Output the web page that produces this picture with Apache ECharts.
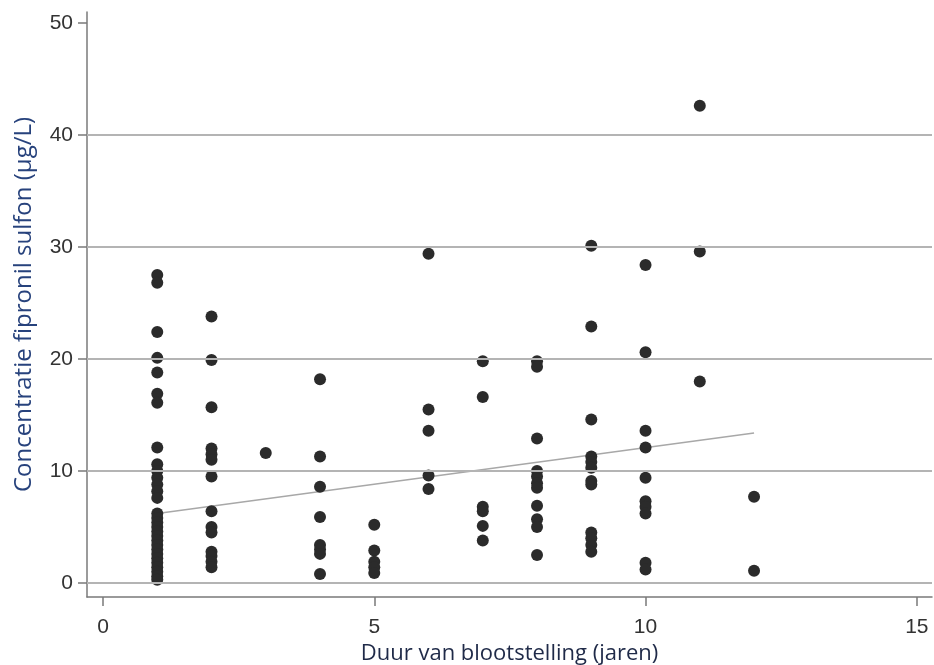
<!DOCTYPE html>
<html>
<head>
<meta charset="utf-8">
<script src="https://cdn.jsdelivr.net/npm/echarts@6/dist/echarts.min.js"></script>
<style>
html,body{margin:0;padding:0;background:#fff;}
#c{width:934px;height:665px;}
</style>
</head>
<body>
<div id="c"></div>
<script>
// Exposure duration (years) and fipronil sulfone concentration (µg/L)
const years = [1, 2, 3, 4, 5, 6, 7, 8, 9, 10, 11, 12];
const conc1 = [27.5, 26.8, 22.4, 20.1, 18.8, 16.9, 16.1, 12.1, 10.6, 10.0, 9.4, 8.8, 8.2, 7.6,
               6.2, 5.8, 5.4, 5.0, 4.6, 4.2, 3.8, 3.4, 3.0, 2.6, 2.2, 1.8, 1.4, 1.0, 0.6, 0.3];
const conc2 = [23.8, 19.9, 15.7, 12.0, 11.5, 11.0, 9.5, 6.4, 5.0, 4.5, 2.8, 2.4, 1.9, 1.4];
const conc3 = [11.6];
const conc4 = [18.2, 11.3, 8.6, 5.9, 3.4, 3.0, 2.6, 0.8];
const conc5 = [5.2, 2.9, 1.9, 1.4, 0.9];
const conc6 = [29.4, 15.5, 13.6, 9.6, 8.4];
const conc7 = [19.8, 16.6, 6.8, 6.4, 5.1, 3.8];
const conc8 = [19.8, 19.3, 12.9, 10.0, 9.5, 8.9, 8.5, 6.9, 5.7, 5.0, 2.5];
const conc9 = [30.1, 22.9, 14.6, 11.3, 10.8, 10.3, 9.1, 8.8, 4.5, 4.0, 3.4, 2.8];
const conc10 = [28.4, 20.6, 13.6, 12.1, 9.4, 7.3, 6.8, 6.2, 1.8, 1.2];
const conc11 = [42.6, 29.6, 18.0];
const conc12 = [7.7, 1.1];
const concByYear = [conc1, conc2, conc3, conc4, conc5, conc6, conc7, conc8, conc9, conc10, conc11, conc12];

// fitted line endpoints
const fitX = [1, 12];
const fitY = [6.2, 13.4];

const xTicks = [0, 5, 10, 15];
const yTicks = [0, 10, 20, 30, 40, 50];
const gridValues = [0, 10, 20, 30, 40];

const points = [];
years.forEach((yr, i) => concByYear[i].forEach(v => points.push([yr, v])));
const fitData = fitX.map((x, i) => [x, fitY[i]]);

const chart = echarts.init(document.getElementById('c'), null, {renderer: 'canvas'});
chart.setOption({
  animation: false,
  backgroundColor: '#ffffff',
  grid: {left: 87, right: 2, top: 12, bottom: 68, containLabel: false, outerBoundsMode: 'none'},
  xAxis: {
    type: 'value',
    min: -0.295, max: 15.28,
    name: 'Duur van blootstelling (jaren)',
    nameLocation: 'middle',
    nameGap: 41,
    nameTextStyle: {fontFamily: 'Open Sans', fontSize: 22, color: '#1f2a48'},
    axisLine: {show: true, onZero: false, lineStyle: {color: '#7a7a7a', width: 1.5}},
    axisTick: {show: true, length: 9, customValues: xTicks, lineStyle: {color: '#7a7a7a', width: 1.5}},
    axisLabel: {customValues: xTicks, margin: 20, fontFamily: 'Liberation Sans', fontSize: 21, color: '#333', lineHeight: 21},
    splitLine: {show: false}
  },
  yAxis: {
    type: 'value',
    min: -1.25, max: 50.98,
    name: 'Concentratie fipronil sulfon (µg/L)',
    nameLocation: 'middle',
    nameRotate: 90,
    nameGap: 51,
    nameTextStyle: {fontFamily: 'Open Sans', fontSize: 24, color: '#27427c'},
    axisLine: {show: true, onZero: false, lineStyle: {color: '#7a7a7a', width: 1.5}},
    axisTick: {show: true, length: 9, customValues: yTicks, lineStyle: {color: '#7a7a7a', width: 1.5}},
    axisLabel: {customValues: yTicks, margin: 14, fontFamily: 'Liberation Sans', fontSize: 21, color: '#333'},
    splitLine: {show: false}
  },
  series: [
    {
      type: 'line',
      data: fitData,
      symbol: 'none',
      lineStyle: {color: '#a8a8a8', width: 1.5},
      z: 3,
      markLine: {
        silent: true,
        symbol: ['none', 'none'],
        label: {show: false},
        lineStyle: {color: '#b4b4b4', width: 2, type: 'solid'},
        data: gridValues.map(v => ({yAxis: v}))
      }
    },
    {
      type: 'scatter',
      data: points,
      symbol: 'circle',
      symbolSize: 12,
      itemStyle: {color: '#2b2b2b', opacity: 1},
      z: 4
    }
  ]
});
</script>
</body>
</html>
